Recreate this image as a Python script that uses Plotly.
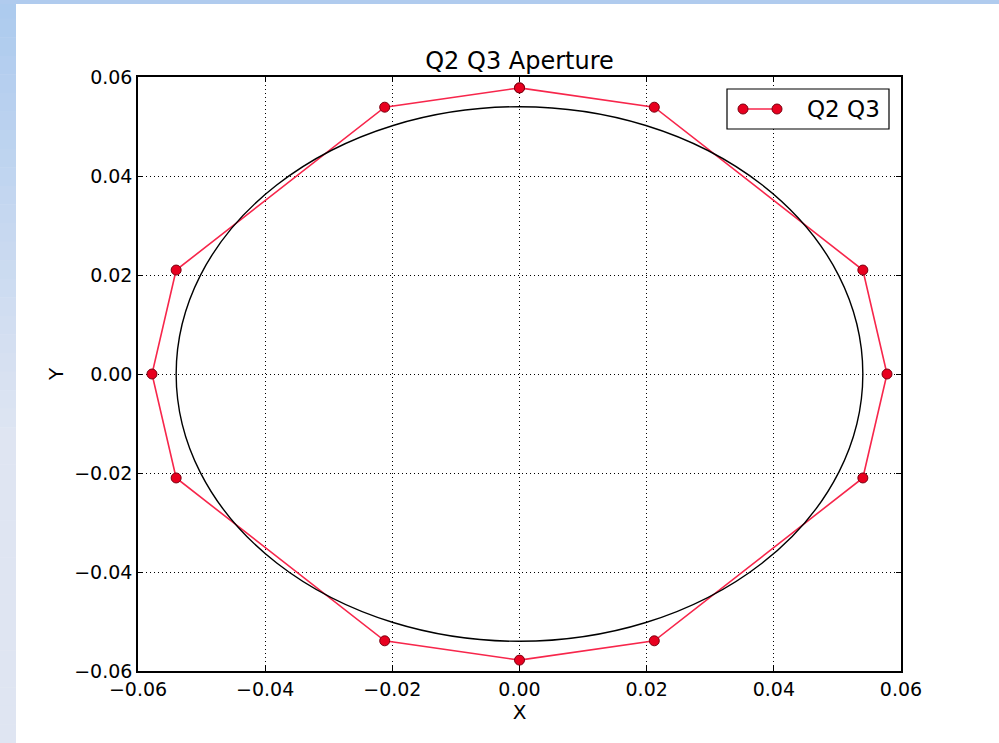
import plotly.graph_objects as go

# Q2/Q3 aperture polygon vertices (closed)
x_pts = [0.0, 0.0212, 0.0540, 0.0578, 0.0540, 0.0212, 0.0, -0.0212, -0.0540, -0.0578, -0.0540, -0.0212, 0.0]
y_pts = [0.0578, 0.0539, 0.0210, 0.0, -0.0210, -0.0539, -0.0578, -0.0539, -0.0210, 0.0, 0.0210, 0.0539, 0.0578]

# reference circular aperture radius
circle_radius = 0.054

tick_vals = [-0.06, -0.04, -0.02, 0.0, 0.02, 0.04, 0.06]
series_name = "Q2 Q3"

W, H = 999, 743
L, R, T, B = 138, 901, 77, 671

LINE_C = "#f7264b"
MARK_C = "#e8001f"
MARK_EDGE = "#7a0010"


def px_x(px):
    return (px - L) / (R - L)


def px_y(py):
    return (B - py) / (B - T)


fig = go.Figure()

fig.add_trace(go.Scatter(
    x=x_pts, y=y_pts, mode="lines+markers", name=series_name,
    line=dict(color=LINE_C, width=1.6),
    marker=dict(size=10, color=MARK_C, line=dict(color=MARK_EDGE, width=1)),
    showlegend=False,
))

shapes = []
# page frame: gradient strip on the left and a thin strip on top
top_c = (172, 202, 238)
bot_c = (223, 229, 242)
n = 40
for i in range(n):
    y0 = H * i / n
    y1 = H * (i + 1) / n
    t = min(1.0, ((y0 + y1) / 2) / 440)
    c = tuple(int(round(top_c[k] + (bot_c[k] - top_c[k]) * t)) for k in range(3))
    shapes.append(dict(type="rect", xref="paper", yref="paper",
                       x0=px_x(0), x1=px_x(16), y0=px_y(y1 + 0.5), y1=px_y(y0),
                       fillcolor="rgb(%d,%d,%d)" % c, line=dict(width=0), layer="below"))
shapes.append(dict(type="rect", xref="paper", yref="paper",
                   x0=px_x(0), x1=px_x(W), y0=px_y(4), y1=px_y(0),
                   fillcolor="rgb(176,203,238)", line=dict(width=0), layer="below"))

# circular aperture outline
shapes.append(dict(type="circle", xref="x", yref="y",
                   x0=-circle_radius, x1=circle_radius,
                   y0=-circle_radius, y1=circle_radius,
                   line=dict(color="black", width=1.4), layer="above"))

# legend box with a line-and-two-markers handle
lg_left, lg_right, lg_top, lg_bot = 727, 889, 89, 129
lg_mid = (lg_top + lg_bot) / 2
shapes.append(dict(type="rect", xref="paper", yref="paper",
                   x0=px_x(lg_left), x1=px_x(lg_right), y0=px_y(lg_bot), y1=px_y(lg_top),
                   fillcolor="white", line=dict(color="black", width=1.2), layer="above"))
shapes.append(dict(type="line", xref="paper", yref="paper",
                   x0=px_x(743), x1=px_x(777), y0=px_y(lg_mid), y1=px_y(lg_mid),
                   line=dict(color=LINE_C, width=1.6), layer="above"))
for mx in (743, 777):
    shapes.append(dict(type="circle", xref="paper", yref="paper",
                       xsizemode="pixel", ysizemode="pixel",
                       xanchor=px_x(mx), yanchor=px_y(lg_mid),
                       x0=-5, x1=5, y0=-5, y1=5,
                       fillcolor=MARK_C, line=dict(color=MARK_EDGE, width=1), layer="above"))

axis_common = dict(
    range=[-0.06, 0.06], tickvals=tick_vals, tickformat=".2f",
    showgrid=True, gridcolor="black", griddash="1px,3px", gridwidth=1,
    showline=True, linecolor="black", linewidth=1.5, mirror="ticks",
    ticks="inside", ticklen=5, tickcolor="black", tickwidth=1,
    zeroline=False,
    tickfont=dict(family="DejaVu Sans", size=19, color="black"),
)

fig.update_layout(
    width=W, height=H,
    margin=dict(l=L, r=W - R, t=T, b=H - B, pad=0),
    paper_bgcolor="white", plot_bgcolor="white",
    shapes=shapes,
    annotations=[dict(text=series_name, xref="paper", yref="paper",
                      x=px_x(805), y=px_y(lg_mid), xanchor="left", yanchor="middle",
                      showarrow=False,
                      font=dict(family="DejaVu Sans", size=23, color="black"))],
    title=dict(text="Q2 Q3 Aperture", x=(L + R) / 2 / W, xanchor="center",
               y=1 - 61 / H, yanchor="middle", yref="container",
               font=dict(family="DejaVu Sans", size=24, color="black")),
    xaxis=dict(axis_common, title=dict(text="X", standoff=0,
               font=dict(family="DejaVu Sans", size=20, color="black"))),
    yaxis=dict(axis_common, title=dict(text="Y", standoff=5,
               font=dict(family="DejaVu Sans", size=20, color="black"))),
    showlegend=False,
)

fig.write_html("out.html")
